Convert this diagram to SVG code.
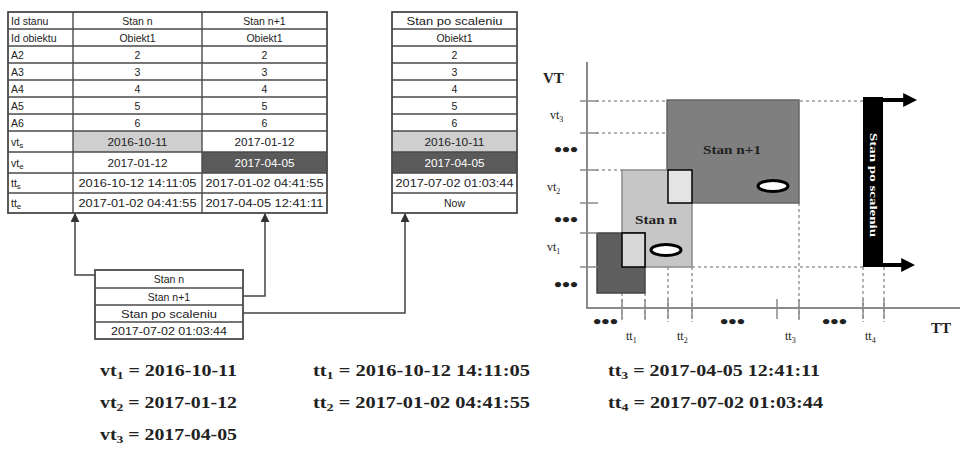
<svg xmlns="http://www.w3.org/2000/svg" width="965" height="451" viewBox="0 0 965 451">
<style>
.tb{fill:none;stroke:#4a4a4a;stroke-width:1.8}
.gl{stroke:#4a4a4a;stroke-width:1.4}
.t{font-family:"Liberation Sans",Arial,sans-serif;font-size:10.5px;fill:#222}
.c{text-anchor:middle}
.w{fill:#fff}
.conn{fill:none;stroke:#444;stroke-width:1.5}
.ax{stroke:#8a8a8a;stroke-width:2}
.dot{stroke:#999;stroke-width:1.5;stroke-dasharray:3 3;fill:none}
.tick{stroke:#8a8a8a;stroke-width:1.5}
.s{font-family:"Liberation Serif","Times New Roman",serif;fill:#222}
.b{font-weight:bold}
.dots{font-family:"Liberation Serif","Times New Roman",serif;font-weight:bold;font-size:18px;fill:#222}
</style>
<defs>
<marker id="ah" viewBox="0 0 10 10" refX="9" refY="5" markerWidth="6" markerHeight="6" orient="auto"><path d="M0,0 L10,5 L0,10 z" fill="#333"/></marker>
<marker id="bh" viewBox="0 0 10 10" refX="2" refY="5" markerWidth="3.5" markerHeight="3.5" orient="auto"><path d="M0,0 L10,5 L0,10 z" fill="#000"/></marker>
</defs>
<rect width="965" height="451" fill="#fff"/>

<!-- Left table -->
<g id="table-states">
<rect x="73" y="131" width="129" height="21" fill="#cfcfcf"/>
<rect x="202" y="152" width="125" height="21" fill="#5a5a5a"/>
<rect class="tb" x="8" y="12" width="319" height="201"/>
<g class="gl">
<line x1="8" y1="29" x2="327" y2="29"/><line x1="8" y1="46" x2="327" y2="46"/>
<line x1="8" y1="63" x2="327" y2="63"/><line x1="8" y1="80" x2="327" y2="80"/>
<line x1="8" y1="97" x2="327" y2="97"/><line x1="8" y1="114" x2="327" y2="114"/>
<line x1="8" y1="131" x2="327" y2="131"/><line x1="8" y1="152" x2="327" y2="152"/>
<line x1="8" y1="173" x2="327" y2="173"/><line x1="8" y1="193" x2="327" y2="193"/>
<line x1="73" y1="12" x2="73" y2="213"/><line x1="202" y1="12" x2="202" y2="213"/>
</g>
<g class="t">
<text x="11" y="24.5">Id stanu</text>
<text x="11" y="41.5">Id obiektu</text>
<text x="11" y="58.5">A2</text><text x="11" y="75.5">A3</text><text x="11" y="92.5">A4</text>
<text x="11" y="109.5">A5</text><text x="11" y="126.5">A6</text>
<text x="11" y="145.5">vt<tspan font-size="8" dy="2">s</tspan></text>
<text x="11" y="166.5">vt<tspan font-size="8" dy="2">e</tspan></text>
<text x="11" y="187">tt<tspan font-size="8" dy="2">s</tspan></text>
<text x="11" y="207">tt<tspan font-size="8" dy="2">e</tspan></text>
</g>
<g class="t c">
<text x="137.5" y="24.5">Stan n</text><text x="264.5" y="24.5">Stan n+1</text>
<text x="137.5" y="41.5">Obiekt1</text><text x="264.5" y="41.5">Obiekt1</text>
<text x="137.5" y="58.5">2</text><text x="264.5" y="58.5">2</text>
<text x="137.5" y="75.5">3</text><text x="264.5" y="75.5">3</text>
<text x="137.5" y="92.5">4</text><text x="264.5" y="92.5">4</text>
<text x="137.5" y="109.5">5</text><text x="264.5" y="109.5">5</text>
<text x="137.5" y="126.5">6</text><text x="264.5" y="126.5">6</text>
<text x="137.5" y="145.5" textLength="60" lengthAdjust="spacingAndGlyphs">2016-10-11</text>
<text x="264.5" y="145.5" textLength="60" lengthAdjust="spacingAndGlyphs">2017-01-12</text>
<text x="137.5" y="166.5" textLength="60" lengthAdjust="spacingAndGlyphs">2017-01-12</text>
<text class="w" x="264.5" y="166.5" textLength="60" lengthAdjust="spacingAndGlyphs">2017-04-05</text>
<text x="137.5" y="187" textLength="118" lengthAdjust="spacingAndGlyphs">2016-10-12 14:11:05</text>
<text x="264.5" y="187" textLength="118" lengthAdjust="spacingAndGlyphs">2017-01-02 04:41:55</text>
<text x="137.5" y="207" textLength="118" lengthAdjust="spacingAndGlyphs">2017-01-02 04:41:55</text>
<text x="264.5" y="207" textLength="118" lengthAdjust="spacingAndGlyphs">2017-04-05 12:41:11</text>
</g>
</g>

<!-- Merged state table -->
<g id="table-merged">
<rect x="392" y="131" width="125" height="21" fill="#cfcfcf"/>
<rect x="392" y="152" width="125" height="21" fill="#5a5a5a"/>
<rect class="tb" x="392" y="12" width="125" height="201"/>
<g class="gl">
<line x1="392" y1="29" x2="517" y2="29"/><line x1="392" y1="46" x2="517" y2="46"/>
<line x1="392" y1="63" x2="517" y2="63"/><line x1="392" y1="80" x2="517" y2="80"/>
<line x1="392" y1="97" x2="517" y2="97"/><line x1="392" y1="114" x2="517" y2="114"/>
<line x1="392" y1="131" x2="517" y2="131"/><line x1="392" y1="152" x2="517" y2="152"/>
<line x1="392" y1="173" x2="517" y2="173"/><line x1="392" y1="193" x2="517" y2="193"/>
</g>
<g class="t c">
<text x="454.5" y="24.5" textLength="96" lengthAdjust="spacingAndGlyphs">Stan po scaleniu</text>
<text x="454.5" y="41.5">Obiekt1</text>
<text x="454.5" y="58.5">2</text><text x="454.5" y="75.5">3</text><text x="454.5" y="92.5">4</text>
<text x="454.5" y="109.5">5</text><text x="454.5" y="126.5">6</text>
<text x="454.5" y="145.5" textLength="60" lengthAdjust="spacingAndGlyphs">2016-10-11</text>
<text class="w" x="454.5" y="166.5" textLength="60" lengthAdjust="spacingAndGlyphs">2017-04-05</text>
<text x="454.5" y="187" textLength="118" lengthAdjust="spacingAndGlyphs">2017-07-02 01:03:44</text>
<text x="454.5" y="207">Now</text>
</g>
</g>

<!-- Small selector table -->
<g id="table-select">
<rect class="tb" x="95" y="270" width="148" height="69"/>
<g class="gl">
<line x1="95" y1="288" x2="243" y2="288"/><line x1="95" y1="305" x2="243" y2="305"/>
<line x1="95" y1="322" x2="243" y2="322"/>
</g>
<g class="t c">
<text x="169" y="283">Stan n</text>
<text x="169" y="300.5">Stan n+1</text>
<text x="169" y="317.5" textLength="96" lengthAdjust="spacingAndGlyphs">Stan po scaleniu</text>
<text x="169" y="334.5" textLength="116" lengthAdjust="spacingAndGlyphs">2017-07-02 01:03:44</text>
</g>
</g>

<!-- Connectors -->
<g id="connectors">
<path class="conn" d="M95,275 H75 V214" marker-end="url(#ah)"/>
<path class="conn" d="M243,296 H265 V214" marker-end="url(#ah)"/>
<path class="conn" d="M243,313 H405 V214" marker-end="url(#ah)"/>
</g>

<!-- Chart -->
<g id="chart">
<g id="guides">
<path class="dot" d="M596,101 H667 M800,101 H863 M596,133 H667 M596,170 H622 M596,233 H597 M596,267 H622 M692,267 H863"/>
<path class="dot" d="M622,293 V322 M645,293 V322 M668,267 V322 M692,267 V322 M799,203 V322 M863,267 V322 M884,267 V322"/>
</g>
<g id="states">
<rect x="667" y="100" width="132" height="103" fill="#7f7f7f" stroke="#666" stroke-width="1.5"/>
<rect x="622" y="170" width="70" height="97" fill="#c6c6c6" stroke="#8a8a8a" stroke-width="1.5"/>
<rect x="668" y="170" width="24" height="33" fill="#e4e4e4" stroke="#000" stroke-width="1.5"/>
<rect x="597" y="233" width="48" height="60" fill="#5e5e5e" stroke="#444" stroke-width="1.5"/>
<rect x="622" y="233" width="23" height="34" fill="#d8d8d8" stroke="#000" stroke-width="1.5"/>
<ellipse cx="666" cy="250" rx="15" ry="5.5" fill="#fff" stroke="#000" stroke-width="3"/>
<ellipse cx="773" cy="186" rx="15" ry="5.5" fill="#fff" stroke="#000" stroke-width="3"/>
<text class="s b" x="703" y="154" font-size="12" textLength="58" lengthAdjust="spacingAndGlyphs">Stan n+1</text>
<text class="s b" x="635" y="224" font-size="12" textLength="42" lengthAdjust="spacingAndGlyphs">Stan n</text>
</g>
<g id="merged-bar">
<rect x="863" y="97" width="20" height="170" fill="#000"/>
<line x1="880" y1="100" x2="906" y2="100" stroke="#000" stroke-width="4" marker-end="url(#bh)"/>
<line x1="880" y1="265" x2="904" y2="265" stroke="#000" stroke-width="4" marker-end="url(#bh)"/>
<text transform="translate(870,185) rotate(90)" font-family="Liberation Serif, Times New Roman, serif" font-weight="bold" fill="#fff" font-size="10" text-anchor="middle" textLength="104" lengthAdjust="spacingAndGlyphs">Stan po scaleniu</text>
</g>
<g id="axes">
<line class="ax" x1="587" y1="62" x2="587" y2="309"/>
<line class="ax" x1="586" y1="308" x2="960" y2="308"/>
<path class="tick" d="M580,101 H598 M580,133 H598 M580,170 H598 M580,203 H598 M580,233 H598 M580,267 H598"/>
<path class="tick" d="M622,299 V319 M645,299 V319 M668,299 V319 M692,299 V319 M777,299 V319 M799,299 V319 M863,299 V319 M884,299 V319"/>
<text class="s b" x="543" y="83" font-size="15">VT</text>
<text class="s b" x="931" y="333" font-size="15">TT</text>
<text class="s" x="550" y="119" font-size="12">vt<tspan font-size="8" dy="3">3</tspan></text>
<text class="s" x="547" y="191" font-size="12">vt<tspan font-size="8" dy="3">2</tspan></text>
<text class="s" x="547" y="251" font-size="12">vt<tspan font-size="8" dy="3">1</tspan></text>
<text class="s" x="626" y="340" font-size="12">tt<tspan font-size="8" dy="3">1</tspan></text>
<text class="s" x="677" y="340" font-size="12">tt<tspan font-size="8" dy="3">2</tspan></text>
<text class="s" x="785" y="340" font-size="12">tt<tspan font-size="8" dy="3">3</tspan></text>
<text class="s" x="865" y="340" font-size="12">tt<tspan font-size="8" dy="3">4</tspan></text>
<text class="dots" x="554" y="156" textLength="24" lengthAdjust="spacingAndGlyphs">•••</text>
<text class="dots" x="554" y="226" textLength="24" lengthAdjust="spacingAndGlyphs">•••</text>
<text class="dots" x="554" y="291" textLength="24" lengthAdjust="spacingAndGlyphs">•••</text>
<text class="dots" x="593" y="328" textLength="25" lengthAdjust="spacingAndGlyphs">•••</text>
<text class="dots" x="720" y="328" textLength="25" lengthAdjust="spacingAndGlyphs">•••</text>
<text class="dots" x="822" y="328" textLength="25" lengthAdjust="spacingAndGlyphs">•••</text>
</g>
</g>

<!-- Legend -->
<g id="legend" class="s b" font-size="16">
<text x="100" y="376" textLength="137" lengthAdjust="spacingAndGlyphs">vt<tspan font-size="11" dy="3">1</tspan><tspan dy="-3"> = 2016-10-11</tspan></text>
<text x="100" y="408" textLength="137" lengthAdjust="spacingAndGlyphs">vt<tspan font-size="11" dy="3">2</tspan><tspan dy="-3"> = 2017-01-12</tspan></text>
<text x="100" y="440" textLength="137" lengthAdjust="spacingAndGlyphs">vt<tspan font-size="11" dy="3">3</tspan><tspan dy="-3"> = 2017-04-05</tspan></text>
<text x="313" y="376" textLength="217" lengthAdjust="spacingAndGlyphs">tt<tspan font-size="11" dy="3">1</tspan><tspan dy="-3"> = 2016-10-12 14:11:05</tspan></text>
<text x="313" y="408" textLength="217" lengthAdjust="spacingAndGlyphs">tt<tspan font-size="11" dy="3">2</tspan><tspan dy="-3"> = 2017-01-02 04:41:55</tspan></text>
<text x="608" y="376" textLength="212" lengthAdjust="spacingAndGlyphs">tt<tspan font-size="11" dy="3">3</tspan><tspan dy="-3"> = 2017-04-05 12:41:11</tspan></text>
<text x="608" y="408" textLength="215" lengthAdjust="spacingAndGlyphs">tt<tspan font-size="11" dy="3">4</tspan><tspan dy="-3"> = 2017-07-02 01:03:44</tspan></text>
</g>
</svg>
